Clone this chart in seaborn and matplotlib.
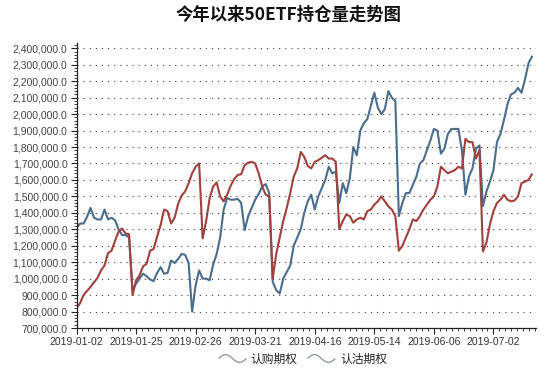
import numpy as np
import pandas as pd
import matplotlib
matplotlib.use("Agg")
import matplotlib.pyplot as plt
import seaborn as sns
from matplotlib.ticker import MultipleLocator, FuncFormatter, FixedLocator
from matplotlib.lines import Line2D
from matplotlib.path import Path
from matplotlib.font_manager import FontProperties

# ---------------- data ----------------
title = "今年以来50ETF持仓量走势图"
series_names = ["认购期权", "认沽期权"]
holidays = ["2019-02-04", "2019-02-05", "2019-02-06", "2019-02-07", "2019-02-08",
            "2019-04-05", "2019-05-01", "2019-05-02", "2019-05-03", "2019-06-07"]
tick_labels = ["2019-01-02", "2019-01-25", "2019-02-26", "2019-03-21",
               "2019-04-16", "2019-05-14", "2019-06-06", "2019-07-02"]

call_oi = [
    1307000, 1335000, 1335000, 1375000, 1430000, 1370000, 1360000, 1360000, 1420000, 1360000,
    1370000, 1355000, 1300000, 1265000, 1265000, 1250000, 930000, 970000, 1000000, 1030000,
    1015000, 995000, 985000, 1035000, 1070000, 1030000, 1035000, 1110000, 1095000, 1120000,
    1150000, 1145000, 1095000, 800000, 960000, 1050000, 1000000, 1000000, 990000, 1085000,
    1150000, 1250000, 1420000, 1490000, 1480000, 1480000, 1485000, 1460000, 1295000, 1380000,
    1430000, 1480000, 1515000, 1560000, 1575000, 1520000, 980000, 930000, 910000, 1000000,
    1040000, 1080000, 1200000, 1250000, 1300000, 1400000, 1470000, 1510000, 1420000, 1500000,
    1550000, 1600000, 1680000, 1640000, 1650000, 1460000, 1580000, 1520000, 1610000, 1800000,
    1750000, 1900000, 1945000, 1970000, 2050000, 2130000, 2040000, 2000000, 2030000, 2140000,
    2100000, 2080000, 1380000, 1460000, 1520000, 1520000, 1570000, 1620000, 1700000, 1720000,
    1780000, 1840000, 1910000, 1900000, 1760000, 1790000, 1880000, 1910000, 1910000, 1910000,
    1780000, 1510000, 1620000, 1670000, 1790000, 1810000, 1440000, 1530000, 1590000, 1660000,
    1830000, 1880000, 1965000, 2060000, 2120000, 2130000, 2160000, 2130000, 2210000, 2310000,
    2350000,
]
put_oi = [
    820000, 850000, 900000, 925000, 950000, 978000, 1005000, 1050000, 1080000, 1155000,
    1170000, 1230000, 1285000, 1305000, 1275000, 1270000, 900000, 990000, 1020000, 1075000,
    1090000, 1170000, 1180000, 1255000, 1325000, 1420000, 1410000, 1335000, 1370000, 1455000,
    1505000, 1530000, 1580000, 1640000, 1680000, 1700000, 1245000, 1350000, 1490000, 1560000,
    1585000, 1500000, 1470000, 1510000, 1565000, 1605000, 1630000, 1635000, 1690000, 1705000,
    1710000, 1700000, 1640000, 1560000, 1510000, 1500000, 1000000, 1150000, 1250000, 1350000,
    1430000, 1520000, 1620000, 1670000, 1770000, 1740000, 1685000, 1670000, 1710000, 1720000,
    1735000, 1750000, 1730000, 1730000, 1710000, 1300000, 1350000, 1390000, 1380000, 1340000,
    1360000, 1370000, 1360000, 1410000, 1420000, 1450000, 1470000, 1500000, 1470000, 1440000,
    1420000, 1380000, 1170000, 1200000, 1250000, 1300000, 1360000, 1350000, 1380000, 1420000,
    1450000, 1480000, 1500000, 1560000, 1680000, 1660000, 1640000, 1650000, 1660000, 1680000,
    1670000, 1850000, 1830000, 1830000, 1730000, 1780000, 1165000, 1220000, 1330000, 1410000,
    1460000, 1480000, 1510000, 1480000, 1470000, 1475000, 1500000, 1580000, 1590000, 1600000,
    1635000,
]

colors = {"认购期权": "#4b6d8d", "认沽期权": "#a1403d"}

# ---------------- build table ----------------
n = len(call_oi)
days = pd.bdate_range("2019-01-02", "2019-12-31")
days = days[~days.isin(pd.to_datetime(holidays))][:n]
date_str = [d.strftime("%Y-%m-%d") for d in days]
pos = np.arange(n)
df = pd.DataFrame({
    "pos": np.concatenate([pos, pos]),
    "date": date_str + date_str,
    "value": call_oi + put_oi,
    "series": [series_names[0]] * n + [series_names[1]] * n,
})

# ---------------- style ----------------
sns.set_style("white")
plt.rcParams["font.family"] = ["Liberation Sans", "Noto Sans CJK SC"]
cjk = ["Noto Sans CJK SC", "DejaVu Sans"]

W, H = 546, 373
fig = plt.figure(figsize=(W / 100, H / 100), dpi=100)
left_px, right_px, bottom_px, top_px = 76.5, 535.5, 328, 43.4
ax = fig.add_axes([left_px / W, 1 - bottom_px / H,
                   (right_px - left_px) / W, (bottom_px - top_px) / H])

sns.lineplot(data=df, x="pos", y="value", hue="series", palette=colors,
             linewidth=1.5, errorbar=None, legend=False, ax=ax)

ax.set_xlim(0, n)
ax.set_ylim(700000, 2430000)
ax.set_xlabel("")
ax.set_ylabel("")

# y axis
ax.yaxis.set_major_locator(FixedLocator(np.arange(700000, 2400001, 100000)))
ax.yaxis.set_minor_locator(MultipleLocator(20000))
ax.yaxis.set_major_formatter(FuncFormatter(lambda v, p: f"{v:,.1f}"))
ax.yaxis.grid(True, which="major", linestyle=(0, (1, 4.5)), color="#3a3a3a", linewidth=0.8)
ax.xaxis.grid(False)

# x axis
tick_pos = [date_str.index(t) for t in tick_labels]
ax.xaxis.set_major_locator(FixedLocator(tick_pos))
ax.set_xticklabels(tick_labels)
ax.xaxis.set_minor_locator(MultipleLocator(1.7))

ax.tick_params(axis="y", which="major", direction="out", length=4, width=0.8,
               color="#222222", labelsize=7.5, labelcolor="#444444", pad=2.5, left=True)
ax.tick_params(axis="y", which="minor", direction="out", length=2, width=0.6,
               color="#222222", left=True)
ax.tick_params(axis="x", which="major", direction="out", length=4, width=0.8,
               color="#222222", labelsize=7.5, labelcolor="#333333", pad=2.5, bottom=True)
ax.tick_params(axis="x", which="minor", direction="out", length=2.5, width=0.6,
               color="#222222", bottom=True)

for s in ["top", "right"]:
    ax.spines[s].set_visible(False)
for s in ["left", "bottom"]:
    ax.spines[s].set_color("#222222")
    ax.spines[s].set_linewidth(0.9)

# title
fig.text(289 / W, 1 - 15 / H, title, ha="center", va="center",
         fontsize=12.5, fontweight="bold", family=cjk, color="#111111")

# legend with wave-shaped icons
t = np.linspace(0, 2 * np.pi, 40)
wave_verts = np.column_stack([t / np.pi - 1, 0.28 * np.sin(t)])
wave = Path(wave_verts, [Path.MOVETO] + [Path.LINETO] * (len(t) - 1))
handles = [Line2D([], [], linestyle="none", marker=wave, markersize=20,
                  markerfacecolor="none", markeredgecolor="#8f9ba7",
                  markeredgewidth=1.0) for _ in series_names]
fig.legend(handles, series_names, loc="center",
           bbox_to_anchor=(303 / W, 1 - 359 / H), ncol=2, frameon=False,
           prop=FontProperties(family=cjk, size=8.5),
           handlelength=2.2, handletextpad=0.5, columnspacing=0.9)

fig.savefig("out.png", dpi=100)
